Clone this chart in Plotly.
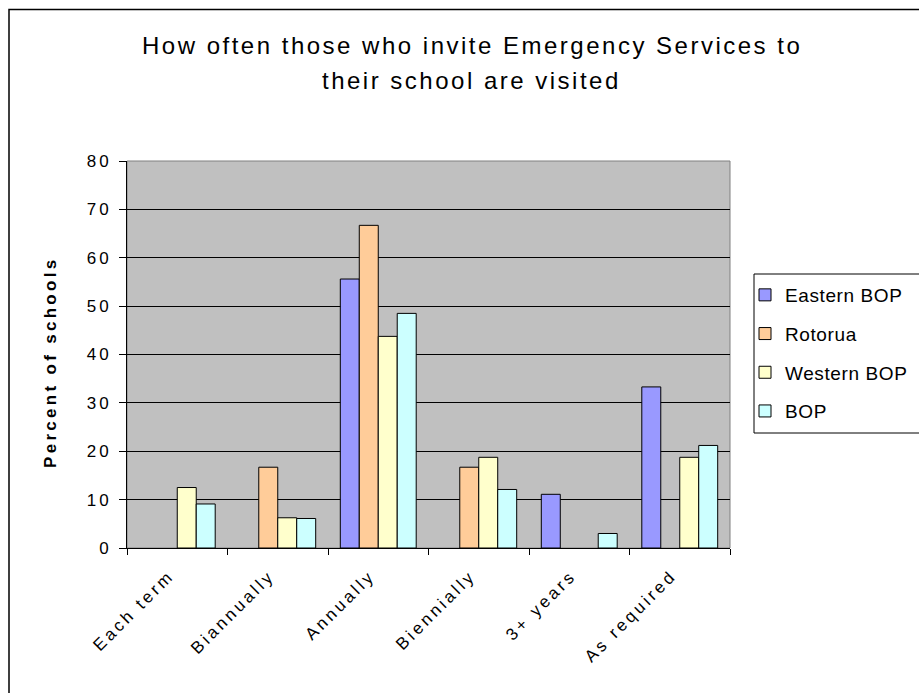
import plotly.graph_objects as go

# Visit frequency categories
categories = ["Each term", "Biannually", "Annually", "Biennially", "3+ years", "As required"]

# Percent of schools per region
eastern_bop = [0, 0, 55.6, 0, 11.1, 33.3]
rotorua = [0, 16.7, 66.7, 16.7, 0, 0]
western_bop = [12.5, 6.25, 43.75, 18.75, 0, 18.75]
bop = [9.1, 6.1, 48.5, 12.1, 3.0, 21.2]

# Y-axis ticks
y_ticks = [0, 10, 20, 30, 40, 50, 60, 70, 80]

series = [
    ("Eastern BOP", eastern_bop, "#9999FF"),
    ("Rotorua", rotorua, "#FFCC99"),
    ("Western BOP", western_bop, "#FFFFCC"),
    ("BOP", bop, "#CCFFFF"),
]

FONT = "Liberation Sans, Arial, sans-serif"


def spaced(text, px):
    return f"<span style='letter-spacing:{px}px'>{text}</span>"


fig = go.Figure()
for name, vals, color in series:
    # zero shares are left empty so no flat outline is drawn
    fig.add_trace(go.Bar(
        name=spaced(name, 0.6),
        x=categories,
        y=[v if v else None for v in vals],
        legendgroup=name,
        marker=dict(color=color, line=dict(color="black", width=1)),
    ))

W, H = 919, 693
L, R, T, B = 127, 189, 161, 145
pw = W - L - R
ph = H - T - B


def px_x(x):
    return (x - L) / pw


def px_y(y):
    return (H - B - y) / ph


fig.update_layout(
    width=W,
    height=H,
    margin=dict(l=L, r=R, t=T, b=B, autoexpand=False),
    paper_bgcolor="white",
    plot_bgcolor="#C0C0C0",
    barmode="group",
    bargap=0.245,
    bargroupgap=0,
    font=dict(family=FONT, size=17, color="black"),
    showlegend=True,
    legend=dict(
        x=px_x(745),
        y=px_y(276),
        xanchor="left",
        yanchor="top",
        bgcolor="rgba(0,0,0,0)",
        borderwidth=0,
        font=dict(family=FONT, size=19, color="black"),
        tracegroupgap=11,
        traceorder="grouped",
    ),
    xaxis=dict(
        tickmode="array",
        tickvals=categories,
        ticktext=[spaced(c, 3.2) for c in categories],
        showline=True,
        linecolor="black",
        linewidth=1,
        ticks="outside",
        tickson="boundaries",
        ticklen=6,
        tickcolor="black",
        tickangle=-45,
        showgrid=False,
        ticklabelstandoff=10,
        ticklabelshift=-8,
        tickfont=dict(family=FONT, size=17, color="black"),
    ),
    yaxis=dict(
        range=[0, 80],
        tickmode="array",
        tickvals=y_ticks,
        ticktext=[spaced(str(v), 3) for v in y_ticks],
        showline=True,
        linecolor="black",
        linewidth=1,
        ticks="outside",
        ticklen=7,
        tickcolor="black",
        showgrid=True,
        gridcolor="black",
        gridwidth=1,
        zeroline=False,
        ticklabelstandoff=4,
        tickfont=dict(family=FONT, size=17, color="black"),
    ),
    shapes=[
        # plot-area frame
        dict(type="rect", xref="paper", yref="paper", x0=0, x1=1, y0=0, y1=1,
             line=dict(color="#808080", width=1), layer="below"),
        # chart-area border
        dict(type="rect", xref="paper", yref="paper",
             x0=px_x(9), x1=px_x(940), y0=px_y(720), y1=px_y(9.5),
             line=dict(color="black", width=1.5)),
        # legend frame
        dict(type="rect", xref="paper", yref="paper",
             x0=px_x(754), x1=px_x(940), y0=px_y(433), y1=px_y(274),
             line=dict(color="black", width=1)),
    ],
    annotations=[
        dict(text=spaced("How often those who invite Emergency Services to", 2.5),
             xref="paper", yref="paper", x=px_x(472), y=px_y(45),
             showarrow=False, font=dict(family=FONT, size=24, color="black"),
             xanchor="center", yanchor="middle"),
        dict(text=spaced("their school are visited", 2.5),
             xref="paper", yref="paper", x=px_x(472), y=px_y(80),
             showarrow=False, font=dict(family=FONT, size=24, color="black"),
             xanchor="center", yanchor="middle"),
        dict(text="<b>" + spaced("Percent of schools", 3.3) + "</b>",
             xref="paper", yref="paper", x=px_x(50), y=px_y(362),
             showarrow=False, textangle=-90,
             font=dict(family=FONT, size=17, color="black"),
             xanchor="center", yanchor="middle"),
    ],
)

fig.write_html("out.html")
